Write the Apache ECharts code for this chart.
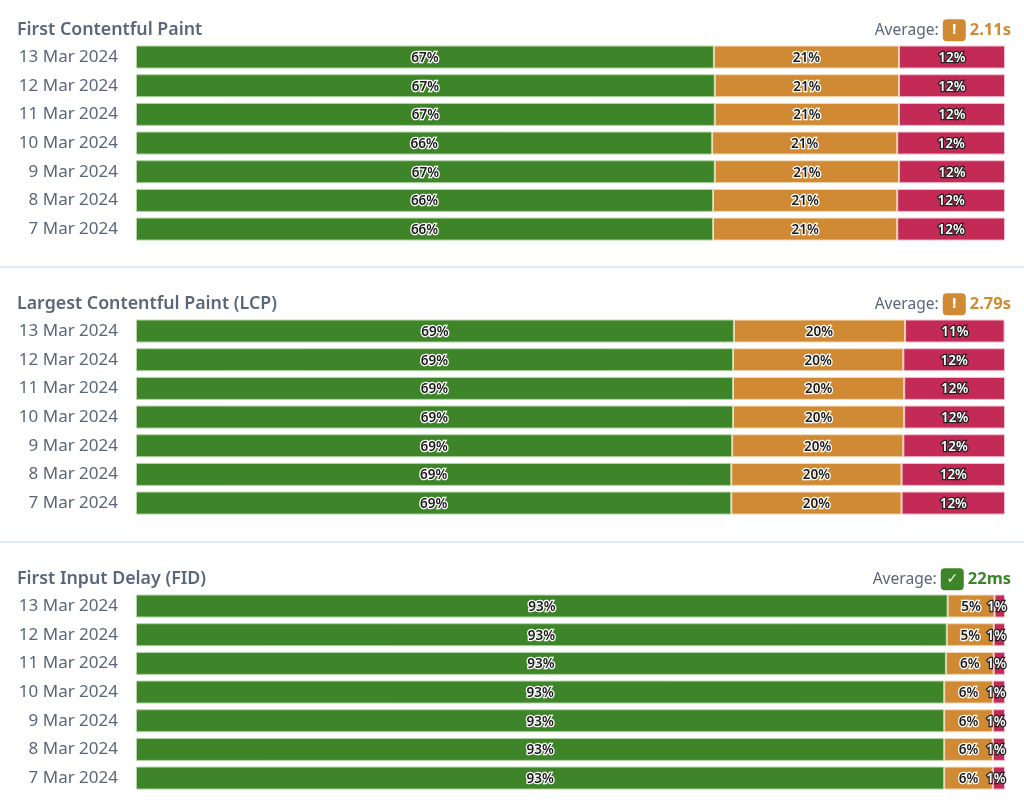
<!DOCTYPE html>
<html>
<head>
<meta charset="utf-8">
<style>
  html, body { margin: 0; padding: 0; background: #fff; }
  #chart { width: 1024px; height: 808px; }
</style>
<script src="https://cdn.jsdelivr.net/npm/echarts@6/dist/echarts.min.js"></script>
</head>
<body>
<div id="chart"></div>
<script>
var days = ['13 Mar 2024', '12 Mar 2024', '11 Mar 2024', '10 Mar 2024', '9 Mar 2024', '8 Mar 2024', '7 Mar 2024'];

var titles = ['First Contentful Paint', 'Largest Contentful Paint (LCP)', 'First Input Delay (FID)'];
var averages = ['2.11s', '2.79s', '22ms'];
var averageStatus = ['warn', 'warn', 'good'];

var fcpGood = [66.5, 66.6, 66.6, 66.3, 66.6, 66.4, 66.4];
var fcpMid = [21.3, 21.2, 21.2, 21.3, 21.2, 21.2, 21.2];
var fcpBad = [12.2, 12.2, 12.2, 12.4, 12.2, 12.4, 12.4];

var lcpGood = [68.8, 68.7, 68.7, 68.7, 68.6, 68.5, 68.5];
var lcpMid = [19.7, 19.6, 19.7, 19.7, 19.7, 19.6, 19.6];
var lcpBad = [11.45, 11.7, 11.6, 11.6, 11.7, 11.9, 11.9];

var fidGood = [93.4, 93.3, 93.2, 93.0, 93.0, 93.0, 93.0];
var fidMid = [5.4, 5.4, 5.5, 5.6, 5.6, 5.6, 5.6];
var fidBad = [1.2, 1.3, 1.3, 1.4, 1.4, 1.4, 1.4];

var FONT = '"Noto Sans", sans-serif';
var GREEN = '#3e8529', ORANGE = '#d08a33', RED = '#c42a56';
var SLATE = '#5a6679';
var gridTops = [42.7, 316.7, 591.7];
var groups = [[fcpGood, fcpMid, fcpBad], [lcpGood, lcpMid, lcpBad], [fidGood, fidMid, fidBad]];
var bandColors = [GREEN, ORANGE, RED];
var bandBorders = ['#b4d6a8', '#f3dcbc', '#f1c0d0'];

var grids = [], xAxes = [], yAxes = [], series = [], titleList = [];

groups.forEach(function (group, g) {
  grids.push({ left: 136, width: 869, top: gridTops[g], height: 200.7 });
  xAxes.push({ gridIndex: g, type: 'value', min: 0, max: 100, show: false });
  yAxes.push({
    gridIndex: g,
    type: 'category',
    inverse: true,
    data: days,
    axisLine: { show: false },
    axisTick: { show: false },
    axisLabel: { color: SLATE, fontFamily: FONT, fontSize: 17, margin: 18, padding: [3, 0, 0, 0] }
  });
  group.forEach(function (vals, b) {
    // the 1% labels in the last panel overflow the thin red segment to the left
    var tiny = g === 2 && b === 2;
    series.push({
      type: 'bar',
      stack: 'g' + g,
      xAxisIndex: g,
      yAxisIndex: g,
      barWidth: 23,
      data: vals,
      silent: true,
      itemStyle: { color: bandColors[b], borderColor: bandBorders[b], borderWidth: 1 },
      label: {
        show: true,
        position: 'inside',
        offset: [tiny ? -3 : 0, 1],
        formatter: function (p) { return Math.round(p.value) + '%'; },
        fontFamily: FONT,
        fontSize: 13.5,
        fontWeight: 600,
        color: b === 2 ? '#ffffff' : '#1a1a1a',
        textBorderColor: b === 2 ? '#222222' : '#ffffff',
        textBorderWidth: 2.5
      }
    });
  });

  titleList.push({
    left: 12,
    top: gridTops[g] - 27,
    text: titles[g],
    textStyle: { color: SLATE, fontFamily: FONT, fontSize: 17.8, fontWeight: 600 }
  });
  var good = averageStatus[g] === 'good';
  titleList.push({
    right: 8,
    top: gridTops[g] - 28.5,
    text: '{lbl|Average:}{icon|' + (good ? '\u2713' : '!') + '}{val|' + averages[g] + '}',
    textStyle: {
      rich: {
        lbl: { color: SLATE, fontFamily: FONT, fontSize: 15.6, fontWeight: 'normal', padding: [0, 4, 0, 0] },
        icon: {
          color: '#fff', fontFamily: '"DejaVu Sans"', fontSize: 14, fontWeight: 'bold',
          backgroundColor: good ? GREEN : ORANGE, borderRadius: 4,
          width: 23, height: 22, align: 'center'
        },
        val: { color: good ? GREEN : ORANGE, fontFamily: FONT, fontSize: 16.5, fontWeight: 700, padding: [0, 0, 0, 4] }
      }
    }
  });
});

var chart = echarts.init(document.getElementById('chart'), null, { renderer: 'canvas' });
chart.setOption({
  animation: false,
  backgroundColor: '#ffffff',
  title: titleList,
  grid: grids,
  xAxis: xAxes,
  yAxis: yAxes,
  series: series,
  graphic: [
    { type: 'rect', shape: { x: 0, y: 266, width: 1024, height: 2 }, style: { fill: '#e2ebf5' } },
    { type: 'rect', shape: { x: 0, y: 541, width: 1024, height: 2 }, style: { fill: '#e2ebf5' } }
  ]
});
</script>
</body>
</html>
